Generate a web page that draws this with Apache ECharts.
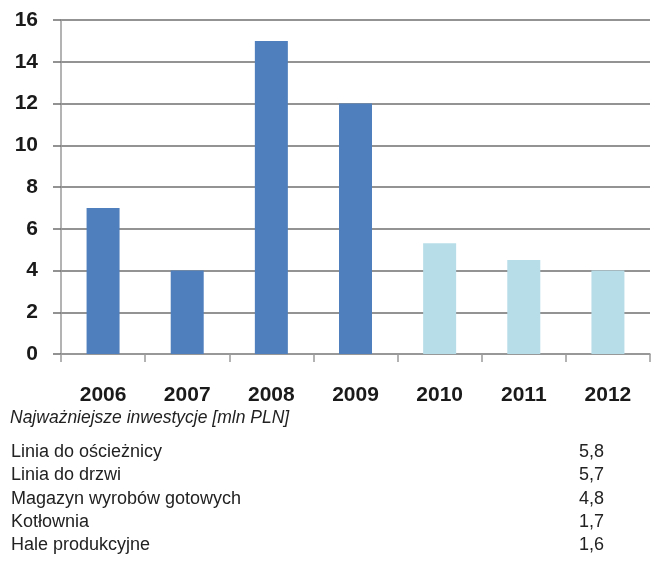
<!DOCTYPE html>
<html>
<head>
<meta charset="utf-8">
<script src="https://cdn.jsdelivr.net/npm/echarts@6/dist/echarts.min.js"></script>
<style>html,body{margin:0;padding:0;background:#fff}#c{width:664px;height:562px}</style>
</head>
<body>
<div id="c"></div>
<script>
var years = ['2006', '2007', '2008', '2009', '2010', '2011', '2012'];
var values = [7, 4, 15, 12, 5.3, 4.5, 4];
var actualCount = 4; // 2006-2009 actual, 2010-2012 planned
var yTicks = [0, 2, 4, 6, 8, 10, 12, 14, 16];
var tableTitle = 'Najważniejsze inwestycje [mln PLN]';
var investNames = ['Linia do ościeżnicy', 'Linia do drzwi', 'Magazyn wyrobów gotowych', 'Kotłownia', 'Hale produkcyjne'];
var investValues = ['5,8', '5,7', '4,8', '1,7', '1,6'];

var FONT = '"Liberation Sans", Arial, sans-serif';
var chart = echarts.init(document.getElementById('c'), null, {renderer: 'canvas'});

var graphics = [{
  type: 'text', left: 10, top: 409,
  style: {text: tableTitle, font: 'italic 17.5px ' + FONT, fill: '#222'}
}];
investNames.forEach(function (n, i) {
  graphics.push({type: 'text', left: 11, top: 443 + i * 23.3,
    style: {text: n, font: '18px ' + FONT, fill: '#222'}});
  graphics.push({type: 'text', left: 579, top: 443 + i * 23.3,
    style: {text: investValues[i], font: '18px ' + FONT, fill: '#222'}});
});

chart.setOption({
  animation: false,
  backgroundColor: '#fff',
  grid: {left: 61, right: 14, top: 20, bottom: 208, containLabel: false},
  xAxis: {
    type: 'category', data: years, boundaryGap: true,
    axisLine: {lineStyle: {color: '#9a9a9a', width: 1.5}},
    axisTick: {show: true, alignWithLabel: false, length: 8, lineStyle: {color: '#9a9a9a', width: 1.5}},
    axisLabel: {fontFamily: FONT, fontWeight: 'bold', fontSize: 21, color: '#1a1a1a', margin: 31}
  },
  yAxis: {
    type: 'value', min: yTicks[0], max: yTicks[yTicks.length - 1], interval: 2,
    axisLine: {show: true, lineStyle: {color: '#9a9a9a', width: 1.5}},
    axisTick: {show: true, length: 8, lineStyle: {color: '#6f6f6f', width: 1.5}},
    splitLine: {show: true, lineStyle: {color: '#6f6f6f', width: 1.5}},
    axisLabel: {fontFamily: FONT, fontWeight: 'bold', fontSize: 21, color: '#1a1a1a', margin: 23}
  },
  series: [{
    type: 'bar', data: values, barWidth: 33,
    itemStyle: {
      color: function (p) { return p.dataIndex < actualCount ? '#4f7fbd' : '#b7dde8'; }
    }
  }],
  graphic: graphics
});
</script>
</body>
</html>
